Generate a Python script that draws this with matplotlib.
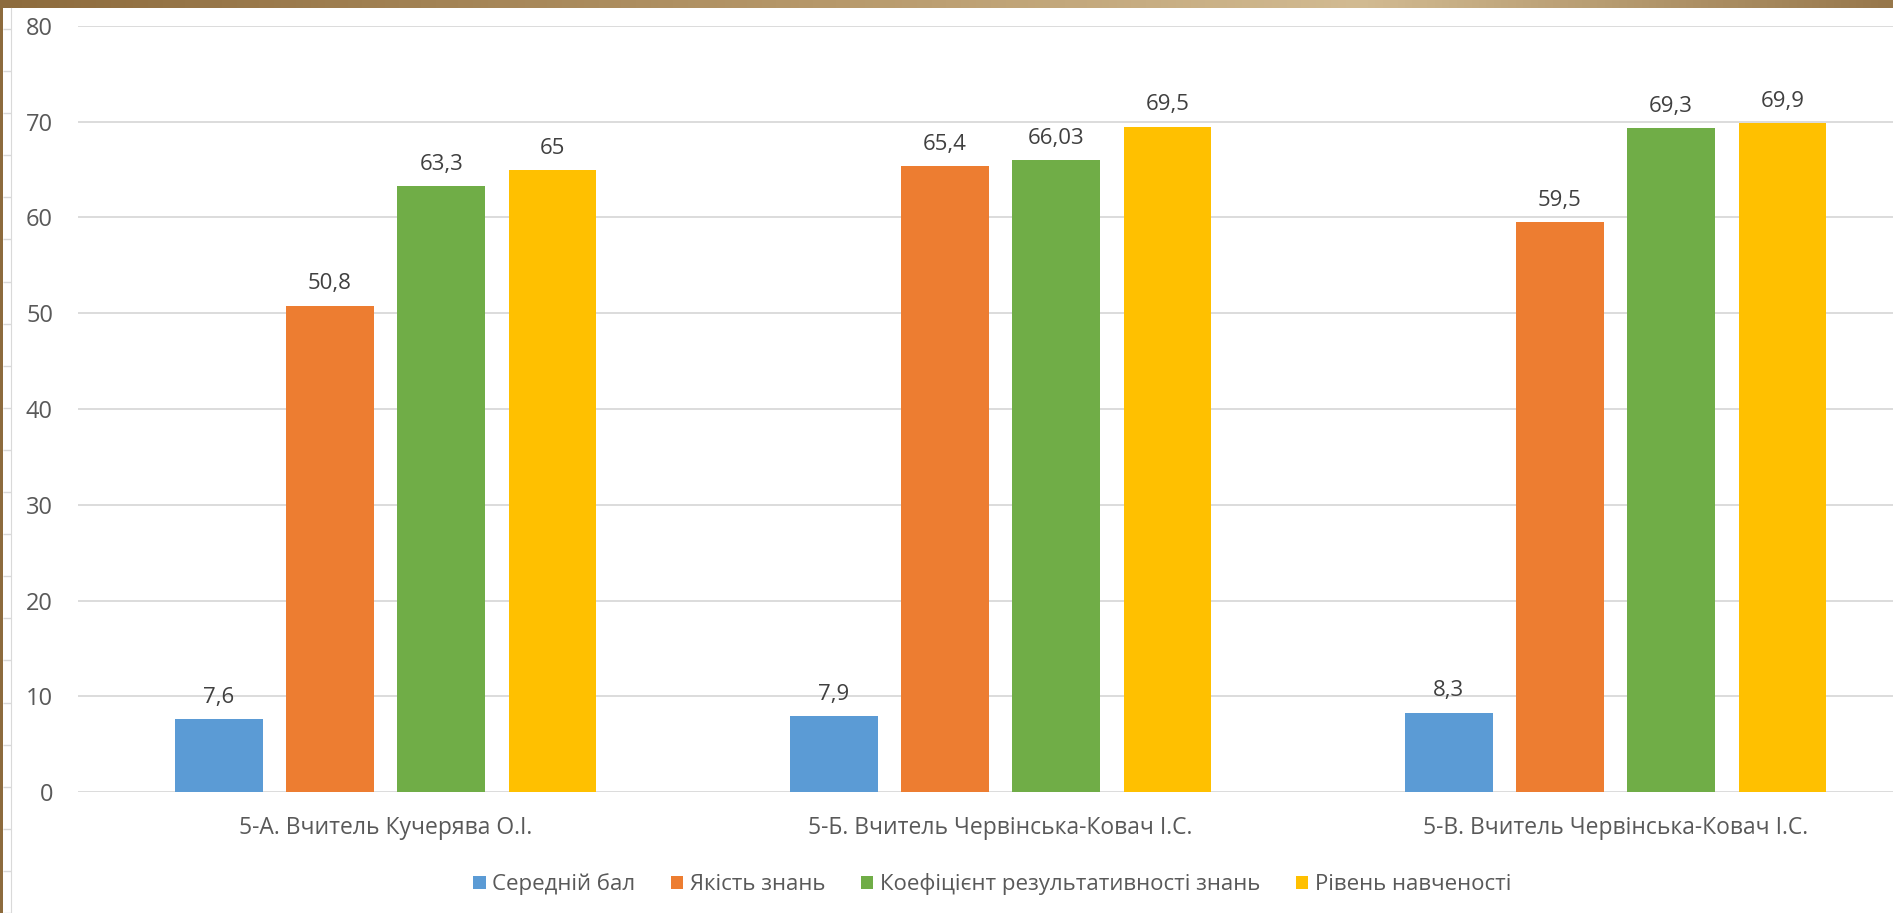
import matplotlib
matplotlib.use('Agg')
import matplotlib.pyplot as plt
import numpy as np
from matplotlib.colors import LinearSegmentedColormap

plt.rcParams['font.family'] = ['Open Sans', 'DejaVu Sans']

# Data
categories = ['5-А. Вчитель Кучерява О.І.',
              '5-Б. Вчитель Червінська-Ковач І.С.',
              '5-В. Вчитель Червінська-Ковач І.С.']
series_names = ['Середній бал', 'Якість знань',
                'Коефіцієнт результативності знань', 'Рівень навченості']
avg_score = [7.6, 7.9, 8.3]
quality = [50.8, 65.4, 59.5]
efficiency = [63.3, 66.03, 69.3]
learning_level = [65, 69.5, 69.9]
yticks = [0, 10, 20, 30, 40, 50, 60, 70, 80]

series = [avg_score, quality, efficiency, learning_level]
colors = ['#5B9BD5', '#ED7D31', '#70AD47', '#FFC000']
text_color = '#595959'

W, H = 1893, 913
fig = plt.figure(figsize=(W / 100, H / 100), dpi=100)
fig.patch.set_facecolor('white')

# decorative frame: gold strip on top and left, faint ruler line
top = fig.add_axes([0, 1 - 8 / H, 1, 8 / H])
grad = np.linspace(0, 1, 512).reshape(1, -1)
gold = LinearSegmentedColormap.from_list(
    'gold', [(0, '#8d6b3d'), (0.45, '#b89a6c'), (0.72, '#d2bb92'), (1, '#97774a')])
top.imshow(grad, aspect='auto', cmap=gold, extent=[0, 1, 0, 1])
top.axis('off')
left = fig.add_axes([0, 0, 3 / W, 1 - 8 / H])
left.set_facecolor('#8d6b3d')
left.set_xticks([])
left.set_yticks([])
for s in left.spines.values():
    s.set_visible(False)

ruler = fig.add_axes([11 / W, 0, 0.0001, 1 - 8 / H])
ruler.set_ylim(H - 8, 0)
ruler.set_yticks(np.arange(21, H, 42.1))
ruler.set_yticklabels([])
ruler.set_xticks([])
ruler.tick_params(axis='y', length=5.8, width=1, color='#d9d9d9', direction='out')
for k, s in ruler.spines.items():
    s.set_visible(k == 'left')
ruler.spines['left'].set_color('#d9d9d9')
ruler.patch.set_alpha(0)

# main chart
ax = fig.add_axes([78 / W, (H - 792) / H, 1845 / W, 766 / H])
x = np.arange(len(categories))
step = 0.181
width = 0.143
for i, (vals, name, c) in enumerate(zip(series, series_names, colors)):
    pos = x + (i - 1.5) * step
    bars = ax.bar(pos, vals, width, color=c, label=name, zorder=3)
    for b, v in zip(bars, vals):
        ax.annotate(f'{v:g}'.replace('.', ','),
                    (b.get_x() + b.get_width() / 2, b.get_height()),
                    xytext=(0, 8), textcoords='offset points',
                    ha='center', va='bottom', fontsize=16, color='#404040')

ax.set_xlim(-0.5, 2.5)
ax.set_ylim(0, 80)
ax.set_yticks(yticks)
ax.set_xticks(x)
ax.set_xticklabels(categories)
ax.grid(axis='y', color='#d9d9d9', linewidth=1.3, zorder=0)
ax.set_axisbelow(True)
for s in ax.spines.values():
    s.set_visible(False)
ax.tick_params(axis='y', length=0, pad=18, labelsize=17, labelcolor=text_color)
ax.tick_params(axis='x', length=0, pad=17, labelsize=16.5, labelcolor=text_color)

ax.legend(loc='upper center', bbox_to_anchor=(0.4955, -0.08), ncol=4, frameon=False,
          fontsize=16, labelcolor=text_color, handlelength=0.55, handleheight=0.55,
          handletextpad=0.3, columnspacing=1.6)

plt.savefig('out.png', dpi=100, facecolor='white')
plt.close()
